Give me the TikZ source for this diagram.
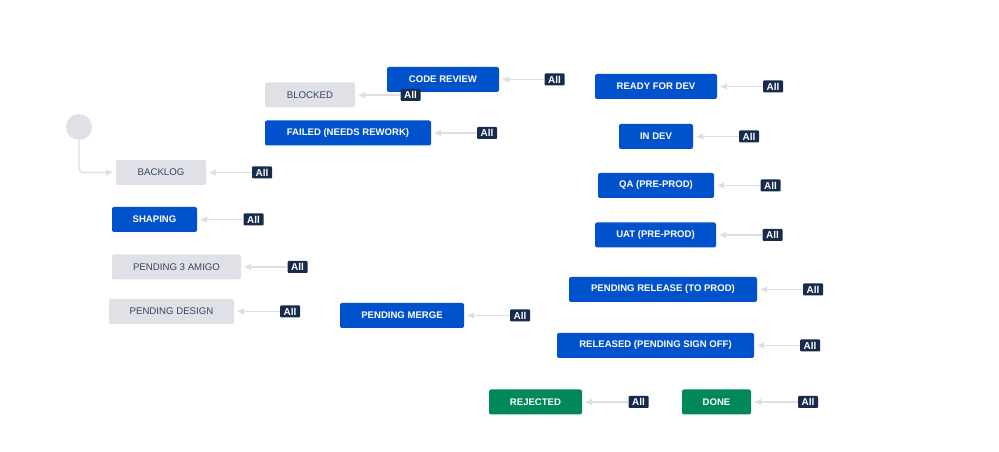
\documentclass[tikz,border=0pt]{standalone}
\usepackage{fontspec}
\setmainfont{Liberation Sans}
\usepackage{tikz}
\usetikzlibrary{positioning, arrows.meta}
\definecolor{jblue}{HTML}{0052CC}
\definecolor{jgray}{HTML}{DFE1E6}
\definecolor{jgreen}{HTML}{00875A}
\definecolor{jnavy}{HTML}{172B4D}
\definecolor{jtext}{HTML}{344563}
\definecolor{jline}{HTML}{DCDFE4}
\tikzset{
  status/.style={rectangle, rounded corners=2bp, minimum height=25bp, inner sep=0pt, align=center, font=\fontsize{9.7}{11}\selectfont},
  bluestatus/.style={status, fill=jblue, text=white, font=\fontsize{9.6}{11}\selectfont\bfseries},
  graystatus/.style={status, fill=jgray, text=jtext},
  greenstatus/.style={status, fill=jgreen, text=white, font=\fontsize{9.6}{11}\selectfont\bfseries},
  allbadge/.style={rectangle, rounded corners=1bp, fill=jnavy, text=white, minimum width=20bp, minimum height=12bp, inner sep=0pt, font=\fontsize{10}{10}\selectfont\bfseries},
  arrow/.style={-{Triangle[length=7bp, width=6bp]}, draw=jline, line width=1.4bp, shorten >=3bp},
}
\begin{document}
\begin{tikzpicture}[x=1bp, y=-1bp]
  \useasboundingbox (0,0) rectangle (999,452);

  % Start
  \node[circle, fill=jgray, minimum size=26bp, inner sep=0pt] (start) at (79,127) {};

  % Nodes
  \node[graystatus, minimum width=90bp] (backlog) at (161,172.5) {BACKLOG};
  \node[graystatus, minimum width=90bp] (blocked) at (310,95) {BLOCKED};
  \node[bluestatus, minimum width=112bp] (codereview) at (443,79.5) {CODE REVIEW};
  \node[bluestatus, minimum width=166bp] (failed) at (348,133) {FAILED (NEEDS REWORK)};
  \node[bluestatus, minimum width=85bp] (shaping) at (154.5,219.5) {SHAPING};
  \node[graystatus, minimum width=129bp] (amigo) at (176.5,267) {PENDING 3 AMIGO};
  \node[graystatus, minimum width=125bp] (design) at (171.5,311.5) {PENDING DESIGN};
  \node[bluestatus, minimum width=124bp] (merge) at (402,315.5) {PENDING MERGE};
  \node[bluestatus, minimum width=122bp] (ready) at (656,86.5) {READY FOR DEV};
  \node[bluestatus, minimum width=74bp] (indev) at (656,136.5) {IN DEV};
  \node[bluestatus, minimum width=116bp] (qa) at (656,185.5) {QA (PRE-PROD)};
  \node[bluestatus, minimum width=121bp] (uat) at (655.5,235) {UAT (PRE-PROD)};
  \node[bluestatus, minimum width=188bp] (pendrel) at (663,289.5) {PENDING RELEASE (TO PROD)};
  \node[bluestatus, minimum width=197bp] (released) at (655.5,345.5) {RELEASED (PENDING SIGN OFF)};
  \node[greenstatus, minimum width=93bp] (rejected) at (535.5,402) {REJECTED};
  \node[greenstatus, minimum width=69bp] (done) at (716.5,402) {DONE};

  % Global transitions
  \node[allbadge] (allbacklog) at (262,172.5) {All};
  \node[allbadge] (allblocked) at (410.5,95) {All};
  \node[allbadge] (allcodereview) at (554.5,79.5) {All};
  \node[allbadge] (allfailed) at (487,133) {All};
  \node[allbadge] (allshaping) at (253.5,219.5) {All};
  \node[allbadge] (allamigo) at (297.5,267) {All};
  \node[allbadge] (alldesign) at (290,311.5) {All};
  \node[allbadge] (allmerge) at (520,315.5) {All};
  \node[allbadge] (allready) at (773,86.5) {All};
  \node[allbadge] (allindev) at (749,136.5) {All};
  \node[allbadge] (allqa) at (770.5,185.5) {All};
  \node[allbadge] (alluat) at (772.5,235) {All};
  \node[allbadge] (allpendrel) at (813,289.5) {All};
  \node[allbadge] (allreleased) at (810,345.5) {All};
  \node[allbadge] (allrejected) at (638.5,402) {All};
  \node[allbadge] (alldone) at (808,402) {All};

  % Arrows
  \draw[arrow, rounded corners=4bp] (start) |- (backlog);
  \draw[arrow] (allbacklog) -- (backlog);
  \draw[arrow] (allblocked) -- (blocked);
  \draw[arrow] (allcodereview) -- (codereview);
  \draw[arrow] (allfailed) -- (failed);
  \draw[arrow] (allshaping) -- (shaping);
  \draw[arrow] (allamigo) -- (amigo);
  \draw[arrow] (alldesign) -- (design);
  \draw[arrow] (allmerge) -- (merge);
  \draw[arrow] (allready) -- (ready);
  \draw[arrow] (allindev) -- (indev);
  \draw[arrow] (allqa) -- (qa);
  \draw[arrow] (alluat) -- (uat);
  \draw[arrow] (allpendrel) -- (pendrel);
  \draw[arrow] (allreleased) -- (released);
  \draw[arrow] (allrejected) -- (rejected);
  \draw[arrow] (alldone) -- (done);

\end{tikzpicture}
\end{document}
